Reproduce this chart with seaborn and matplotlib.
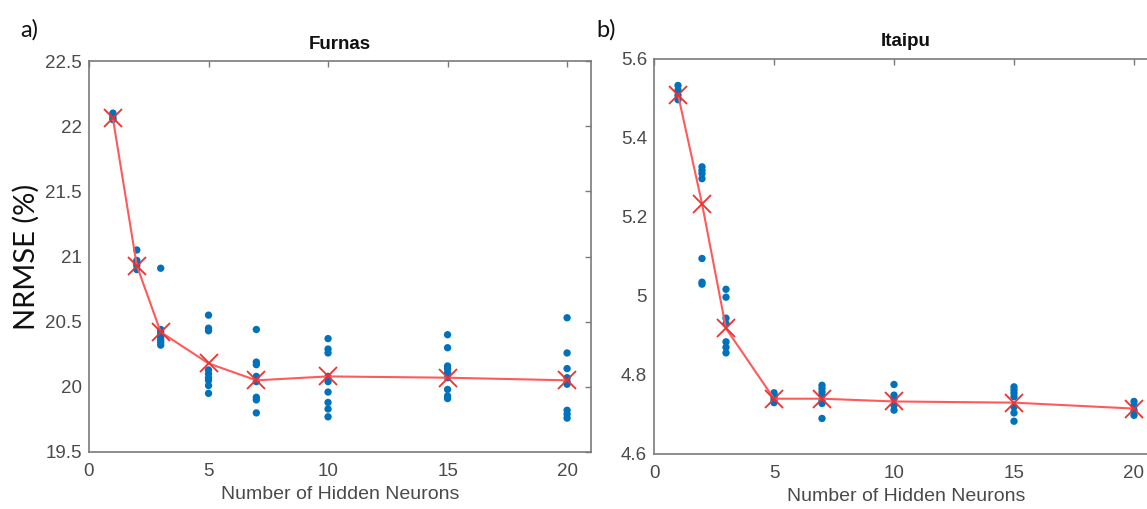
import numpy as np
import pandas as pd
import matplotlib
matplotlib.use("Agg")
import matplotlib.pyplot as plt
import seaborn as sns

# ---------------- data ----------------
neurons = [1, 2, 3, 5, 7, 10, 15, 20]

furnas_runs = [
    [22.10, 22.08, 22.06, 22.05],
    [21.05, 20.97, 20.95, 20.93, 20.90],
    [20.91, 20.44, 20.42, 20.40, 20.38, 20.36, 20.34, 20.32],
    [20.55, 20.45, 20.43, 20.13, 20.10, 20.07, 20.05, 20.01, 19.95],
    [20.44, 20.19, 20.17, 20.08, 20.04, 19.92, 19.90, 19.80],
    [20.37, 20.29, 20.26, 20.08, 20.04, 19.96, 19.88, 19.83, 19.77],
    [20.40, 20.30, 20.16, 20.14, 20.11, 20.07, 19.98, 19.93, 19.91],
    [20.53, 20.26, 20.14, 20.07, 20.04, 20.02, 19.82, 19.79, 19.76],
]
furnas_mean = [22.06, 20.93, 20.42, 20.18, 20.05, 20.08, 20.07, 20.05]

itaipu_runs = [
    [5.533, 5.521, 5.508, 5.497],
    [5.327, 5.318, 5.310, 5.297, 5.095, 5.035, 5.030],
    [5.017, 4.997, 4.944, 4.930, 4.884, 4.870, 4.856],
    [4.755, 4.748, 4.742, 4.735, 4.730],
    [4.774, 4.766, 4.757, 4.749, 4.735, 4.728, 4.690],
    [4.776, 4.749, 4.740, 4.723, 4.711],
    [4.770, 4.762, 4.754, 4.745, 4.719, 4.704, 4.683],
    [4.733, 4.723, 4.711, 4.698],
]
itaipu_mean = [5.510, 5.234, 4.918, 4.740, 4.740, 4.733, 4.730, 4.715]

furnas_yticks = [19.5, 20, 20.5, 21, 21.5, 22, 22.5]
furnas_yticklabels = ["19.5", "20", "20.5", "21", "21.5", "22", "22.5"]
itaipu_yticks = [4.6, 4.8, 5.0, 5.2, 5.4, 5.6]
itaipu_yticklabels = ["4.6", "4.8", "5", "5.2", "5.4", "5.6"]
xticks = [0, 5, 10, 15, 20]
titles = ["Furnas", "Itaipu"]
panel_labels = ["a)", "b)"]
xlabel = "Number of Hidden Neurons"
ylabel = "NRMSE (%)"

# ---------------- style ----------------
sns.set_style("white")
plt.rcParams["font.family"] = ["Liberation Sans", "DejaVu Sans"]

BLUE = "#0072BD"
RED_LINE = "#FF5A5A"
RED_X = "#F03030"
AX_COL = "#7a7a7a"
TXT_COL = "#4a4a4a"


def long_df(runs):
    rows = []
    for n, vals in zip(neurons, runs):
        for v in vals:
            rows.append((n, v))
    return pd.DataFrame(rows, columns=["neurons", "nrmse"])


fig = plt.figure(figsize=(11.47, 5.09), dpi=100)
W, H = 1147, 509
# axes in pixel coordinates (left, top, right, bottom)
boxes = [(89, 61, 591, 452), (654, 59, 1158, 454)]

datasets = [
    (furnas_runs, furnas_mean, (19.5, 22.5), furnas_yticks, furnas_yticklabels),
    (itaipu_runs, itaipu_mean, (4.6, 5.6), itaipu_yticks, itaipu_yticklabels),
]

for i, (box, (runs, means, ylim, yt, ytl)) in enumerate(zip(boxes, datasets)):
    l, t, r, b = box
    ax = fig.add_axes([l / W, 1 - b / H, (r - l) / W, (b - t) / H])
    df = long_df(runs)
    sns.scatterplot(data=df, x="neurons", y="nrmse", ax=ax, color=BLUE,
                    s=28, edgecolor="none", linewidth=0, zorder=2, legend=False)
    sns.lineplot(x=neurons, y=means, ax=ax, color=RED_LINE, linewidth=1.5,
                 marker="x", markersize=12.5, markeredgecolor=RED_X,
                 markeredgewidth=1.3, zorder=3, legend=False)
    ax.set_xlim(0, 21)
    ax.set_ylim(*ylim)
    ax.set_xticks(xticks)
    ax.set_xticklabels([str(x) for x in xticks])
    ax.set_yticks(yt)
    ax.set_yticklabels(ytl)
    ax.tick_params(direction="in", top=True, right=True, length=4,
                   width=1.0, color=AX_COL, labelcolor=TXT_COL,
                   labelsize=13.5)
    ax.tick_params(axis="x", pad=8)
    ax.tick_params(axis="y", pad=5)
    for s in ax.spines.values():
        s.set_color(AX_COL)
        s.set_linewidth(1.2)
    ax.set_xlabel(xlabel, fontsize=14, color=TXT_COL, labelpad=4)
    if i == 0:
        ax.set_ylabel(ylabel, fontsize=21, color="#111111", labelpad=4,
                      family=["Lato", "DejaVu Sans"])
    else:
        ax.set_ylabel("")
    ax.set_title(titles[i], fontsize=13.5, fontweight="bold", color="#111111",
                 pad=9)

fig.text(20 / W, 1 - 30 / H, panel_labels[0], fontsize=17, color="#111111",
         family=["Lato", "DejaVu Sans"], va="center", ha="left")
fig.text(596 / W, 1 - 30 / H, panel_labels[1], fontsize=17, color="#111111",
         family=["Lato", "DejaVu Sans"], va="center", ha="left")

fig.savefig("out.png", dpi=100)
